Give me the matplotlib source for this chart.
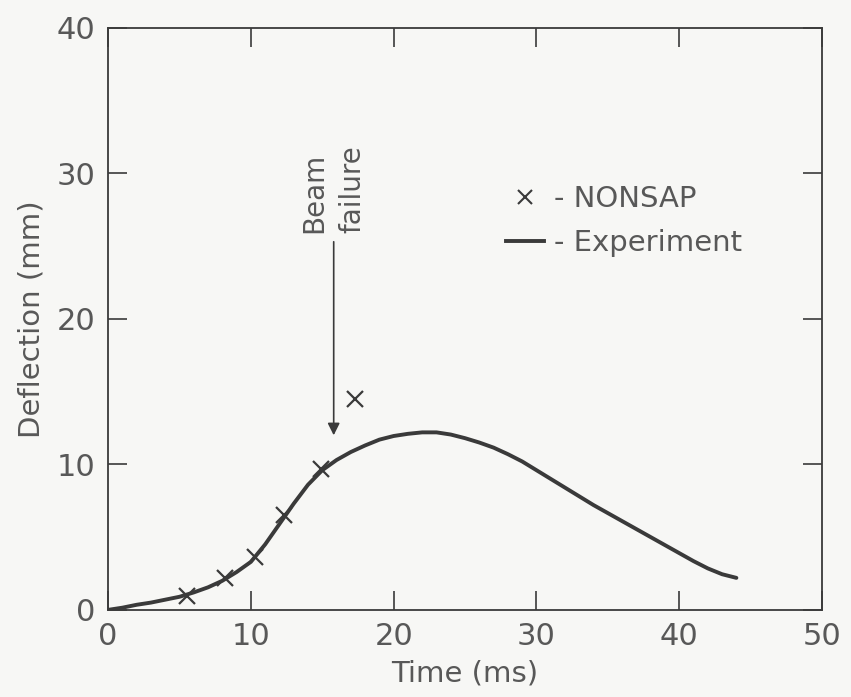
import numpy as np
import matplotlib.pyplot as plt
from matplotlib.lines import Line2D

# Experiment curve
exp_t = [0, 1, 2, 3, 4, 5, 6, 7, 8, 9, 10, 11, 12, 13, 14, 15, 16, 17, 18, 19, 20,
         21, 22, 23, 24, 25, 26, 27, 28, 29, 30, 31, 32, 33, 34, 35, 36, 37, 38,
         39, 40, 41, 42, 43, 44]
exp_d = [0.0, 0.15, 0.35, 0.5, 0.7, 0.9, 1.2, 1.55, 2.0, 2.6, 3.3, 4.5, 5.9, 7.3, 8.6,
         9.6, 10.3, 10.85, 11.3, 11.7, 11.95, 12.1, 12.2, 12.2, 12.05, 11.8, 11.5,
         11.15, 10.7, 10.2, 9.6, 9.0, 8.4, 7.8, 7.2, 6.65, 6.1, 5.55, 5.0,
         4.45, 3.9, 3.35, 2.85, 2.45, 2.2]

# NONSAP points
nonsap_t = [5.5, 8.2, 10.3, 12.3, 14.9, 17.3]
nonsap_d = [0.95, 2.2, 3.6, 6.5, 9.7, 14.5]

# beam failure arrow
fail_t = 15.8
fail_top = 25.3
fail_tip = 12.0

ink = '#3a3a3a'
txt = '#585858'

plt.rcParams['font.family'] = ['DejaVu Sans']
fig = plt.figure(figsize=(8.51, 6.97), dpi=100, facecolor='#f7f7f5')
ax = fig.add_axes([0.127, 0.125, 0.839, 0.835])
ax.set_facecolor('#f7f7f5')

ax.plot(exp_t, exp_d, color=ink, lw=2.8, solid_capstyle='round', solid_joinstyle='round')
ax.plot(nonsap_t, nonsap_d, ls='none', marker='x', ms=12, mew=1.6, color=ink)

ax.annotate('', xy=(fail_t, fail_tip), xytext=(fail_t, fail_top),
            arrowprops=dict(arrowstyle='-|>', lw=1.2, color=ink, mutation_scale=18,
                            shrinkA=0, shrinkB=0))
ax.text(fail_t, fail_top + 0.6, 'Beam\nfailure', rotation=90, ha='center', va='bottom',
        multialignment='left', fontsize=20, color=txt, linespacing=1.45)

handles = [Line2D([], [], ls='none', marker='x', ms=10, mew=1.5, color=ink),
           Line2D([], [], color=ink, lw=2.8)]
ax.legend(handles, ['- NONSAP', '- Experiment'], loc='upper left',
          bbox_to_anchor=(0.52, 0.775), frameon=False, fontsize=21,
          handlelength=1.3, handletextpad=0.35, labelspacing=0.55,
          labelcolor=txt, facecolor='none')

ax.set_xlim(0, 50)
ax.set_ylim(0, 40)
ax.set_xticks([0, 10, 20, 30, 40, 50])
ax.set_yticks([0, 10, 20, 30, 40])
ax.tick_params(direction='in', length=14, width=1.2, color=ink, top=True, right=True,
               labelsize=22, labelcolor=txt, pad=9)
for s in ax.spines.values():
    s.set_color(ink)
    s.set_linewidth(1.3)

ax.set_xlabel('Time (ms)', fontsize=21, color=txt, labelpad=6)
ax.set_ylabel('Deflection (mm)', fontsize=21, color=txt, labelpad=8)

fig.savefig('out.png', dpi=100, facecolor=fig.get_facecolor())
